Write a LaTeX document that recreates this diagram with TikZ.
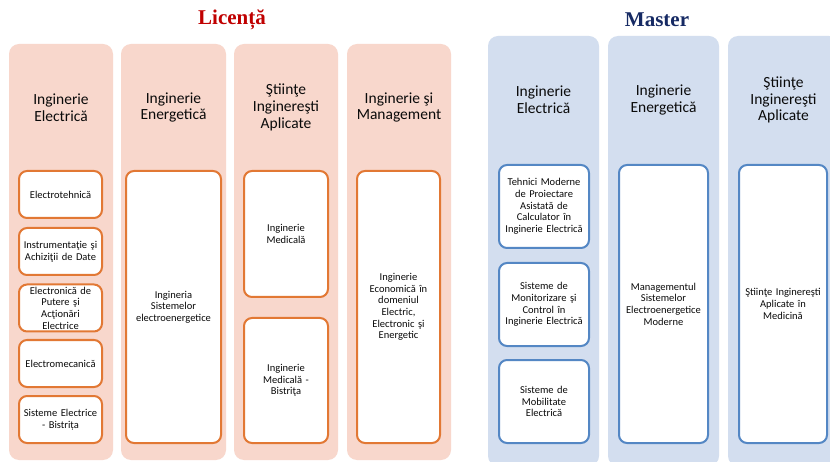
\documentclass[tikz,border=0pt]{standalone}
\usepackage{fontspec}
\setmainfont{Carlito}
\newfontfamily\titlefont{Liberation Serif}
\definecolor{pinkbg}{RGB}{248,215,204}
\definecolor{bluebg}{RGB}{211,222,239}
\definecolor{orangeln}{RGB}{226,120,52}
\definecolor{blueln}{RGB}{84,135,196}
\definecolor{licred}{RGB}{192,0,0}
\definecolor{masblue}{RGB}{22,42,100}
\definecolor{txt}{RGB}{10,10,10}
\begin{document}
\begin{tikzpicture}[x=1pt,y=-1pt,
  colbox/.style={fill=#1, draw=none, rounded corners=10pt, inner sep=0pt},
  head/.style={align=center, text=txt, font=\fontsize{15.5}{16.7}\selectfont, inner sep=0pt},
  inbox/.style={draw=#1, fill=white, line width=2pt, rounded corners=8pt, align=center,
     text=txt, font=\fontsize{10.5}{11.7}\selectfont, inner sep=1pt},
  ttl/.style={font=\titlefont\bfseries\fontsize{21}{24}\selectfont, inner sep=0pt}]
\clip (0,0) rectangle (830,462);
\fill[white] (0,0) rectangle (830,462);
% titles
\node[ttl, text=licred] (tL) at (232,20) {Licență};
\node[ttl, text=masblue] (tM) at (657,20) {Master};
% Licenta columns
\node[colbox=pinkbg, minimum width=104pt, minimum height=416pt] (L1) at (61,252) {};
\node[colbox=pinkbg, minimum width=105pt, minimum height=416pt] (L2) at (173.5,252) {};
\node[colbox=pinkbg, minimum width=104pt, minimum height=416pt] (L3) at (286,252) {};
\node[colbox=pinkbg, minimum width=104pt, minimum height=416pt] (L4) at (399,252) {};
% Master columns
\node[colbox=bluebg, minimum width=111pt, minimum height=430pt] (M1) at (543.5,251) {};
\node[colbox=bluebg, minimum width=111pt, minimum height=430pt] (M2) at (663.5,251) {};
\node[colbox=bluebg, minimum width=111pt, minimum height=430pt] (M3) at (783.5,251) {};
% headers
\node[head] (hL1) at (61,107.5) {Inginerie\\Electrică};
\node[head] (hL2) at (173.5,107.5) {Inginerie\\Energetică};
\node[head] (hL3) at (286,107.5) {Ştiinţe\\Inginereşti\\Aplicate};
\node[head] (hL4) at (399,107.5) {Inginerie şi\\Management};
\node[head] (hM1) at (543.5,100) {Inginerie\\Electrică};
\node[head] (hM2) at (663.5,100) {Inginerie\\Energetică};
\node[head] (hM3) at (783.5,100) {Ştiinţe\\Inginereşti\\Aplicate};
% Licenta inner boxes
\tikzset{l1/.style={inbox=orangeln, minimum width=83pt, minimum height=47pt, text width=80pt}}
\node[l1] (a1) at (60.5,194.5) {Electrotehnică};
\node[l1] (a2) at (60.5,251.5) {Instrumentaţie şi\\Achiziţii de Date};
\node[l1] (a3) at (60.5,308) {Electronică de\\Putere şi\\Acţionări\\Electrice};
\node[l1] (a4) at (60.5,363.5) {Electromecanică};
\node[l1] (a5) at (60.5,419.5) {Sisteme Electrice\\- Bistrița};
\node[inbox=orangeln, minimum width=95pt, minimum height=272pt, text width=88pt] (b1) at (173.5,307) {Ingineria\\Sistemelor\\electroenergetice};
\node[inbox=orangeln, minimum width=84pt, minimum height=126pt, text width=78pt] (c1) at (286,234) {Inginerie\\Medicală};
\node[inbox=orangeln, minimum width=84pt, minimum height=125pt, text width=78pt] (c2) at (286,380.5) {Inginerie\\Medicală -\\Bistriţa};
\node[inbox=orangeln, minimum width=83pt, minimum height=272pt, text width=78pt] (d1) at (398.5,307) {Inginerie\\Economică în\\domeniul\\Electric,\\Electronic şi\\Energetic};
% Master inner boxes
\tikzset{m1/.style={inbox=blueln, minimum width=90pt, minimum height=83pt, text width=86pt}}
\node[m1] (e1) at (544,206.5) {Tehnici Moderne\\de Proiectare\\Asistată de\\Calculator în\\Inginerie Electrică};
\node[m1] (e2) at (544,304.5) {Sisteme de\\Monitorizare şi\\Control în\\Inginerie Electrică};
\node[m1] (e3) at (544,401.5) {Sisteme de\\Mobilitate\\Electrică};
\node[inbox=blueln, minimum width=89pt, minimum height=278pt, text width=85pt] (f1) at (663.5,304) {Managementul\\Sistemelor\\Electroenergetice\\Moderne};
\node[inbox=blueln, minimum width=88pt, minimum height=278pt, text width=84pt] (g1) at (783,304) {Ştiinţe Inginereşti\\Aplicate în\\Medicină};
\end{tikzpicture}
\end{document}
